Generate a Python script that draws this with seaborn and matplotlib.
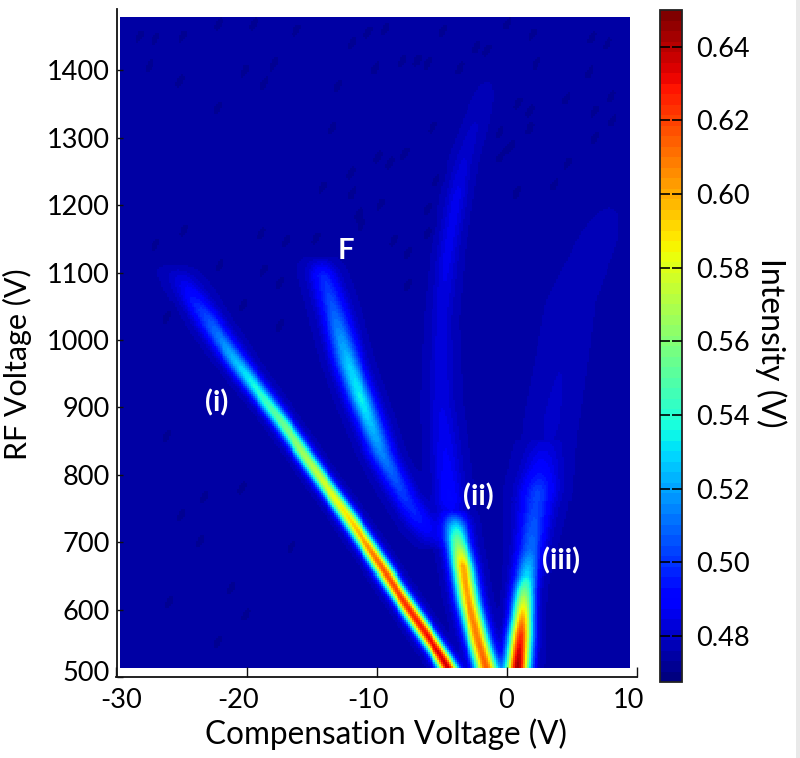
import numpy as np
import pandas as pd
import matplotlib
matplotlib.use("Agg")
import matplotlib.pyplot as plt
from matplotlib.patches import Rectangle
from matplotlib.transforms import ScaledTranslation
import seaborn as sns

sns.set_theme(style="white")
plt.rcParams['font.family'] = ['Lato', 'DejaVu Sans']
plt.rcParams['axes.unicode_minus'] = False

# Ridges: RF voltage, compensation voltage, peak intensity, half-width (V)
i_rf = [505, 530, 600, 663, 737, 800, 877, 970, 1059, 1093, 1112]
i_cv = [-4.3, -5.06, -7.5, -9.66, -12.2, -14.5, -17.3, -20.9, -24.0, -25.0, -25.6]
i_amp = [0.638, 0.635, 0.625, 0.615, 0.59, 0.575, 0.555, 0.525, 0.495, 0.483, 0.476]
i_wid = [0.52, 0.52, 0.52, 0.52, 0.52, 0.52, 0.54, 0.65, 0.75, 0.8, 0.8]

f_rf = [690, 733, 767, 832, 911, 966, 1044, 1096, 1125]
f_cv = [-5.5, -6.8, -7.9, -9.66, -11.2, -12.2, -13.3, -14.1, -14.4]
f_amp = [0.478, 0.495, 0.50, 0.515, 0.535, 0.527, 0.507, 0.497, 0.476]
f_wid = [0.8, 0.75, 0.72, 0.7, 0.7, 0.72, 0.75, 0.75, 0.75]

ii_rf = [505, 515, 555, 610, 663, 700, 722, 745]
ii_cv = [-1.5, -1.6, -2.2, -2.9, -3.37, -3.75, -3.9, -4.0]
ii_amp = [0.618, 0.615, 0.61, 0.605, 0.60, 0.555, 0.525, 0.48]
ii_wid = [0.6, 0.6, 0.6, 0.6, 0.6, 0.62, 0.65, 0.65]

tail_rf = [700, 763, 911, 1030, 1133, 1208, 1267, 1341, 1385]
tail_cv = [-4.0, -4.4, -5.0, -5.0, -4.5, -3.9, -3.3, -2.1, -1.5]
tail_amp = [0.478, 0.491, 0.484, 0.483, 0.486, 0.486, 0.482, 0.478, 0.476]
tail_wid = [0.8, 0.8, 0.7, 0.6, 0.55, 0.55, 0.55, 0.55, 0.55]

iii_rf = [505, 521, 560, 589, 629, 650, 688, 777, 810, 850]
iii_cv = [0.85, 0.92, 1.1, 1.23, 1.38, 1.55, 1.84, 2.4, 2.6, 2.75]
iii_amp = [0.645, 0.642, 0.625, 0.60, 0.555, 0.53, 0.51, 0.50, 0.488, 0.478]
iii_wid = [0.62, 0.62, 0.6, 0.56, 0.58, 0.62, 0.72, 0.95, 0.95, 0.95]

faint_rf = [760, 840, 881, 1059, 1148, 1200]
faint_cv = [2.7, 3.2, 3.5, 5.0, 7.0, 8.0]
faint_amp = [0.477, 0.479, 0.4795, 0.478, 0.477, 0.476]
faint_wid = [1.1, 1.1, 1.1, 1.1, 1.1, 1.1]

background = 0.4755

# Dark background speckles
speck_cv = [-24.9, -18.9, -17.0, -11.2, -22.1, -18.7, -17.5, -7.6, -7.6, -26.2, -20.3, -17.5,
            -23.3, -26.2, -6.1, -27.1, -8.7, -14.7, -27.1, -25.0, -27.5, -25.2, -20.2, -18.7,
            -22.3, -17.9, -28.3, -22.2, -19.5, -16.2,
            -10.65, -9.35, -4.9, 0.1, 2.0, 6.6, 7.8, -2.3, -1.5, -11.9, -8.0, -6.9, -6.1, -3.6,
            2.3, 6.4, -10.1, -13.0, 0.9, 4.6, 8.1, 1.8, 6.8, 8.2, -13.4, -5.7, -0.5, 1.8, 0.4,
            -0.5, 6.8, -9.9, -7.8, -9.0, -12.0, -5.4, 4.7, 0.8, -14.2, -11.9, -9.7, -11.4, -6.1,
            3.7, -25.1, -23.6, -16.6, -21.2, -26.0, -20.1, -22.3, -20.4]
speck_rf = [1163, 1159, 1148, 1171, 1111, 1104, 1085, 1129, 1082, 1033, 1052, 1022,
            767, 856, 1159, 1141, 1148, 1151, 1448, 1452, 1408, 1386, 1401, 1381,
            1346, 1411, 1452, 1470, 1470, 1460,
            1457, 1463, 1460, 1470, 1455, 1450, 1441, 1435, 1430, 1441, 1415, 1415, 1411, 1405,
            1411, 1398, 1404, 1378, 1352, 1359, 1363, 1341, 1341, 1326, 1315, 1316, 1309, 1315, 1289,
            1272, 1301, 1272, 1277, 1263, 1248, 1237, 1263, 1220, 1227, 1218, 1203, 1188, 1196,
            1230, 740, 700, 691, 632, 611, 592, 550, 780]

cbar_ticks = [0.48, 0.50, 0.52, 0.54, 0.56, 0.58, 0.60, 0.62, 0.64]
x_ticks = [-30, -20, -10, 0, 10]
y_ticks = [500, 600, 700, 800, 900, 1000, 1100, 1200, 1300, 1400]
notes = [("(i)", -22.3, 906), ("F", -12.4, 1132), ("(ii)", -2.2, 767), ("(iii)", 4.2, 673)]

ridges = [(i_rf, i_cv, i_amp, i_wid), (f_rf, f_cv, f_amp, f_wid), (ii_rf, ii_cv, ii_amp, ii_wid),
          (tail_rf, tail_cv, tail_amp, tail_wid), (iii_rf, iii_cv, iii_amp, iii_wid),
          (faint_rf, faint_cv, faint_amp, faint_wid)]

cv = np.arange(-29.7, 9.55, 0.15)
rf = np.arange(513, 1481, 3.0)
CV, RF = np.meshgrid(cv, rf)
Z = np.full(CV.shape, background)
for r, c, a, w in ridges:
    centre = np.interp(RF, r, c)
    height = np.clip(np.interp(RF, r, a, left=0, right=0) - background, 0, None)
    width = np.interp(RF, r, w)
    Z += height * np.exp(-0.5 * ((CV - centre) / width) ** 2)
for c, r in zip(speck_cv, speck_rf):
    u = (CV - c) - (RF - r) * 0.02
    v = RF - r
    Z -= 0.0035 * np.exp(-0.5 * (u / 0.28) ** 2 - 0.5 * (v / 10) ** 2)

frame = pd.DataFrame(Z, index=rf, columns=np.round(cv, 2))

W, H = 800, 758
fig = plt.figure(figsize=(8, 7.58), dpi=100, facecolor="white")
fig.add_artist(Rectangle((796 / W, 0), 4 / W, 1, transform=fig.transFigure, color="#e9e9e9", lw=0))
ax = fig.add_axes([116.5 / W, 1 - 677 / H, (637 - 116.5) / W, (677 - 9) / H])
ax.set_xlim(-30, 10)
ax.set_ylim(500, 1491)
cax = fig.add_axes([660 / W, 1 - 682 / H, 22 / W, 672 / H])
hax = ax.inset_axes([cv[0], rf[0], cv[-1] - cv[0], rf[-1] - rf[0]], transform=ax.transData, zorder=1)
sns.heatmap(frame, ax=hax, cmap=plt.get_cmap("jet", 64), vmin=0.4675, vmax=0.65,
            cbar_ax=cax, xticklabels=False, yticklabels=False, rasterized=True)
hax.invert_yaxis()
hax.set_xlabel("")
hax.set_ylabel("")
hax.axis("off")

ax.set_axisbelow(False)
for s in ("top", "right"):
    ax.spines[s].set_visible(False)
for s in ("left", "bottom"):
    ax.spines[s].set_visible(True)
    ax.spines[s].set_color("#111111")
    ax.spines[s].set_linewidth(1.3)
ax.set_xticks(x_ticks)
ax.set_yticks(y_ticks)
ax.tick_params(axis="x", direction="in", length=7, width=1.0, color="#111111", labelsize=19.5,
               labelcolor="black", bottom=True, pad=8)
ax.tick_params(axis="y", direction="in", length=4.5, width=1.0, color="#111111", labelsize=19.5,
               labelcolor="black", left=True, pad=5)
ax.set_xlabel("Compensation Voltage (V)", fontsize=22.7, color="black")
ax.set_ylabel("RF Voltage (V)", fontsize=22, color="black")
ax.xaxis.set_label_coords(0.518, -0.062)
ax.yaxis.set_label_coords(-0.163, 0.469)

# The reference's tick labels sit slightly off their ticks
x_label_shift = [5, -9, -9, -1, -9]
for lab, dx in zip(ax.get_xticklabels(), x_label_shift):
    lab.set_transform(lab.get_transform() + ScaledTranslation(dx / 100, 0, fig.dpi_scale_trans))
first = ax.get_yticklabels()[0]
first.set_transform(first.get_transform() + ScaledTranslation(0, 6 / 100, fig.dpi_scale_trans))

for label, x, y in notes:
    ax.text(x, y, label, color="white", fontsize=21, fontweight="bold", ha="center", va="center", zorder=5)

cb = hax.collections[0].colorbar
cb.set_ticks(cbar_ticks)
cb.set_ticklabels([f"{t:.2f}" for t in cbar_ticks])
cb.outline.set_visible(True)
cb.outline.set_edgecolor("#222222")
cb.outline.set_linewidth(1.3)
cax.set_axisbelow(False)
cax.tick_params(axis="y", direction="in", length=7, width=1.2, color="black", left=True, right=True,
                labelsize=19.5, labelcolor="black", pad=10)
cax.set_ylabel("Intensity (V)", fontsize=23, rotation=270, color="black")
cax.yaxis.set_label_coords(5.75, 0.505)

fig.savefig("out.png", dpi=100)
